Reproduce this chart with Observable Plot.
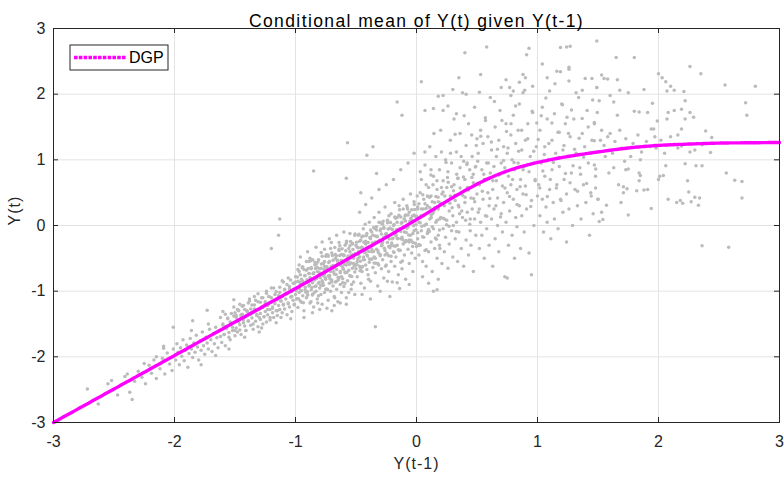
<!DOCTYPE html>
<html>
<head>
<meta charset="utf-8">
<script src="https://cdn.jsdelivr.net/npm/d3@7"></script>
<script src="https://cdn.jsdelivr.net/npm/@observablehq/plot@0.6"></script>
<style>
  html, body { margin: 0; padding: 0; background: #fff; }
  #chart { width: 784px; height: 477px; }
</style>
</head>
<body>
<div id="chart"></div>
<script>
// ---- data ----
const titleText = "Conditional mean of Y(t) given Y(t-1)";
const xLabel = "Y(t-1)";
const yLabel = "Y(t)";
const legendLabel = "DGP";
const xTicks = [-3, -2, -1, 0, 1, 2, 3];
const yTicks = [-3, -2, -1, 0, 1, 2, 3];

// conditional mean curve (DGP)
const curveX = [-3, -2.5, -2, -1.5, -1, -0.5, -0.25, 0, 0.25, 0.5, 0.75, 1, 1.25, 1.5, 1.75, 2, 2.25, 2.5, 2.75, 3];
const curveY = [-3, -2.49, -1.98, -1.47, -0.96, -0.44, -0.18, 0.09, 0.37, 0.63, 0.83, 0.96, 1.05, 1.12, 1.18, 1.22, 1.24, 1.255, 1.26, 1.265];

// scatter of (Y(t-1), Y(t)) pairs, x < -1
const scatterLow = [
[-2.72,-2.49],[-2.63,-2.72],[-2.55,-2.41],[-2.52,-2.36],[-2.47,-2.58],[-2.41,-2.30],[-2.39,-2.26],[-2.37,-2.54],[-2.35,-2.65],[-2.33,-2.37],
[-2.30,-2.22],[-2.27,-2.31],[-2.24,-2.41],[-2.21,-2.13],[-2.19,-2.25],[-2.17,-2.05],[-2.15,-2.33],[-2.12,-2.18],[-2.10,-2.02],[-2.08,-2.26],
[-2.06,-1.94],[-2.04,-2.11],[-2.02,-2.21],[-2.01,-1.88],[-2.09,-1.87],[-2.15,-2.00],[-2.09,-1.84],[-2.25,-2.10],
[-1.99,-2.05],[-1.98,-1.80],[-1.97,-1.93],[-1.96,-2.12],[-1.95,-1.86],[-1.94,-1.99],[-1.93,-1.74],[-1.92,-2.06],[-1.91,-1.90],[-1.90,-1.82],
[-1.89,-2.16],[-1.88,-1.95],[-1.87,-1.72],[-1.86,-1.88],[-1.85,-2.01],[-1.84,-1.79],[-1.83,-1.93],[-1.82,-1.67],[-1.81,-1.85],[-1.80,-2.05],
[-1.79,-1.76],[-1.78,-1.90],[-1.77,-1.62],[-1.76,-1.83],[-1.75,-1.96],[-1.74,-1.70],[-1.73,-1.79],[-1.72,-1.88],[-1.71,-1.58],[-1.70,-1.74],
[-1.69,-1.92],[-1.68,-1.65],[-1.67,-1.80],[-1.66,-1.55],[-1.65,-1.71],[-1.64,-1.86],[-1.63,-1.60],[-1.62,-1.69],[-1.61,-1.78],[-1.60,-1.52],
[-1.59,-1.66],[-1.58,-1.83],[-1.57,-1.57],[-1.56,-1.42],[-1.55,-1.63],[-1.54,-1.74],[-1.53,-1.50],[-1.52,-1.60],[-1.51,-1.38],[-1.50,-1.68],
[-1.86,-1.60],[-1.72,-1.50],[-1.62,-1.40],[-1.78,-2.12],[-1.66,-1.98],[-1.55,-1.88],[-1.73,-1.29],[-2.01,-1.55],[-1.60,-1.31],[-1.85,-1.45],
[-1.51,-1.13],
[-1.50,-1.33],[-1.49,-1.56],[-1.49,-1.40],[-1.48,-1.62],[-1.47,-1.47],[-1.47,-1.29],[-1.46,-1.51],[-1.45,-1.38],[-1.45,-1.66],[-1.44,-1.35],
[-1.43,-1.44],[-1.43,-1.22],[-1.42,-1.53],[-1.41,-1.39],[-1.41,-1.60],[-1.40,-1.31],[-1.39,-1.45],[-1.39,-1.18],[-1.38,-1.36],[-1.37,-1.52],
[-1.37,-1.27],[-1.36,-1.41],[-1.35,-1.58],[-1.35,-1.33],[-1.34,-1.21],[-1.33,-1.46],[-1.33,-1.30],[-1.32,-1.37],[-1.31,-1.54],[-1.31,-1.16],
[-1.30,-1.28],[-1.29,-1.43],[-1.29,-1.34],[-1.28,-1.10],[-1.27,-1.50],[-1.27,-1.25],[-1.26,-1.39],[-1.25,-1.19],[-1.25,-1.31],[-1.24,-1.47],
[-1.23,-1.22],[-1.23,-1.36],[-1.22,-1.08],[-1.21,-1.28],[-1.21,-1.44],[-1.20,-1.17],[-1.19,-1.33],[-1.19,-1.24],[-1.18,-1.40],[-1.17,-1.05],
[-1.17,-1.19],[-1.16,-1.30],[-1.15,-1.13],[-1.15,-1.37],[-1.14,-1.22],[-1.13,-1.02],[-1.13,-1.28],[-1.12,-1.15],[-1.11,-1.33],[-1.11,-1.08],
[-1.10,-1.21],[-1.09,-0.98],[-1.09,-1.27],[-1.08,-1.12],[-1.07,-1.36],[-1.07,-1.04],[-1.06,-1.18],[-1.05,-0.93],[-1.05,-1.24],[-1.04,-1.09],
[-1.03,-1.31],[-1.03,-1.00],[-1.02,-1.14],[-1.01,-0.88],[-1.01,-1.21],[-1.00,-1.05],[-1.46,-1.20],[-1.38,-1.12],[-1.30,-1.62],[-1.24,-1.00],
[-1.16,-1.48],[-1.10,-0.86],[-1.04,-1.42],[-1.42,-1.70],[-1.34,-1.08],[-1.20,-0.95],[-1.12,-1.40],[-1.06,-0.80],[-1.28,-1.56],[-1.48,-1.28],
[-1.13,0.10],[-1.14,-0.15],[-1.20,-0.35]
];

// extra points filling the dense band, x from -1.6 to -1
const scatterBandLow = [
[-1.60,-1.50],[-1.59,-1.66],[-1.58,-1.35],[-1.57,-1.55],[-1.56,-1.41],[-1.55,-1.70],[-1.54,-1.47],[-1.53,-1.34],[-1.52,-1.55],[-1.51,-1.24],
[-1.50,-1.60],[-1.49,-1.37],[-1.48,-1.44],[-1.47,-1.30],[-1.46,-1.59],[-1.45,-1.36],[-1.44,-1.23],[-1.43,-1.48],[-1.42,-1.28],[-1.41,-1.60],
[-1.40,-1.30],[-1.39,-1.46],[-1.38,-1.15],[-1.37,-1.35],[-1.36,-1.21],[-1.35,-1.50],[-1.34,-1.27],[-1.33,-1.14],[-1.32,-1.35],[-1.31,-1.04],
[-1.30,-1.40],[-1.29,-1.17],[-1.28,-1.24],[-1.27,-1.10],[-1.26,-1.39],[-1.25,-1.16],[-1.24,-1.03],[-1.23,-1.28],[-1.22,-1.08],[-1.21,-1.40],
[-1.20,-1.10],[-1.19,-1.26],[-1.18,-0.95],[-1.17,-1.15],[-1.16,-1.01],[-1.15,-1.30],[-1.14,-1.07],[-1.13,-0.94],[-1.12,-1.15],[-1.11,-0.84],
[-1.10,-1.20],[-1.09,-0.97],[-1.08,-1.04],[-1.07,-0.90],[-1.06,-1.19],[-1.05,-0.96],[-1.04,-0.83],[-1.03,-1.08],[-1.02,-0.88],[-1.01,-1.20]
];

// -1 <= x < 0
const scatterMid = [
[-1.00,-0.78],[-0.99,-1.12],[-0.99,-0.95],[-0.98,-0.85],[-0.98,-1.25],[-0.97,-1.02],[-0.97,-0.70],[-0.96,-0.90],[-0.96,-1.15],[-0.95,-0.82],
[-0.95,-0.99],[-0.94,-0.63],[-0.94,-1.07],[-0.93,-0.88],[-0.93,-1.30],[-0.92,-0.76],[-0.92,-0.94],[-0.91,-1.10],[-0.91,-0.68],[-0.90,-0.85],
[-0.90,-1.01],[-0.89,-0.55],[-0.89,-0.92],[-0.88,-1.18],[-0.88,-0.79],[-0.87,-0.98],[-0.87,-0.66],[-0.86,-0.87],[-0.86,-1.06],[-0.85,-0.72],
[-0.85,-1.24],[-0.84,-0.93],[-0.84,-0.60],[-0.83,-0.81],[-0.83,-1.00],[-0.82,-0.70],[-0.82,-1.12],[-0.81,-0.88],[-0.81,-0.52],[-0.80,-0.76],
[-0.80,-0.95],[-0.79,-1.05],[-0.79,-0.65],[-0.78,-0.84],[-0.78,-1.20],[-0.77,-0.58],[-0.77,-0.91],[-0.76,-0.74],[-0.76,-1.02],[-0.75,-0.47],
[-0.75,-0.82],[-0.74,-0.97],[-0.74,-0.63],[-0.73,-1.14],[-0.73,-0.77],[-0.72,-0.88],[-0.72,-0.55],[-0.71,-0.70],[-0.71,-1.00],[-0.70,-0.83],
[-0.70,-0.42],[-0.69,-0.92],[-0.69,-0.61],[-0.68,-1.08],[-0.68,-0.74],[-0.67,-0.50],[-0.67,-0.86],[-0.66,-0.67],[-0.66,-0.97],[-0.65,-0.58],
[-0.65,-1.16],[-0.64,-0.79],[-0.64,-0.38],[-0.63,-0.70],[-0.63,-0.90],[-0.62,-0.53],[-0.62,-1.02],[-0.61,-0.64],[-0.61,-0.81],[-0.60,-0.45],
[-0.60,-0.93],[-0.59,-0.72],[-0.59,-0.30],[-0.58,-0.60],[-0.58,-1.10],[-0.57,-0.84],[-0.57,-0.49],[-0.56,-0.68],[-0.56,-1.02],[-0.55,-0.76],
[-0.55,-0.40],[-0.54,-0.97],[-0.54,-0.57],[-0.53,-0.65],[-0.53,-0.28],[-0.52,-0.86],[-0.52,-0.50],[-0.51,-0.71],[-0.51,-1.05],[-0.50,-0.44],
[-0.50,-0.60],[-0.96,-0.48],[-0.90,-0.40],[-0.83,-0.33],[-0.78,-0.25],[-0.72,-0.20],[-0.66,-0.15],[-0.60,-0.10],[-0.93,-1.40],[-0.86,-1.33],
[-0.80,-1.28],[-0.74,-1.26],[-0.68,-1.22],[-0.63,-1.18],[-0.97,-0.60],[-0.88,-0.50],[-0.76,-0.36],[-0.64,-0.26],[-0.55,-0.12],[-0.70,-1.30],
[-0.58,-1.20],[-0.85,0.83],[-0.57,1.26],[-0.36,1.20],[-0.41,1.07],[-0.58,0.72],[-0.46,0.50],[-0.33,0.79],[-0.34,-1.54],
[-0.50,-0.30],[-0.49,-0.55],[-0.49,-0.78],[-0.48,-0.40],[-0.48,-0.15],[-0.47,-0.62],[-0.47,-0.48],[-0.46,-0.88],[-0.46,-0.22],[-0.45,-0.35],
[-0.45,-0.70],[-0.44,-0.05],[-0.44,-0.52],[-0.43,-0.41],[-0.43,-0.95],[-0.42,-0.28],[-0.42,-0.60],[-0.41,-0.12],[-0.41,-0.45],[-0.40,-0.75],
[-0.40,-0.33],[-0.39,0.05],[-0.39,-0.56],[-0.38,-0.20],[-0.38,-0.85],[-0.37,-0.40],[-0.37,-0.10],[-0.36,-0.64],[-0.36,-0.27],[-0.35,0.12],
[-0.35,-0.48],[-0.34,-0.72],[-0.34,-0.16],[-0.33,-0.36],[-0.33,-0.02],[-0.32,-0.58],[-0.32,-0.92],[-0.31,-0.24],[-0.31,0.20],[-0.30,-0.44],
[-0.30,-0.08],[-0.29,-0.66],[-0.29,-0.31],[-0.28,0.02],[-0.28,-0.52],[-0.27,-0.18],[-0.27,-0.80],[-0.26,-0.38],[-0.26,0.28],[-0.25,-0.12],
[-0.25,-0.60],[-0.24,-0.26],[-0.24,0.08],[-0.23,-0.46],[-0.23,-0.70],[-0.22,-0.04],[-0.22,-0.34],[-0.21,0.18],[-0.21,-0.55],[-0.20,-0.20],
[-0.20,-0.86],[-0.19,-0.40],[-0.19,0.00],[-0.18,-0.62],[-0.18,0.35],[-0.17,-0.14],[-0.17,-0.48],[-0.16,0.12],[-0.16,-0.30],[-0.15,-0.75],
[-0.15,-0.06],[-0.14,-0.38],[-0.14,0.24],[-0.13,-0.56],[-0.13,-0.20],[-0.12,0.05],[-0.12,-0.66],[-0.11,-0.28],[-0.11,0.40],[-0.10,-0.10],
[-0.10,-0.45],[-0.09,0.16],[-0.09,-0.82],[-0.08,-0.24],[-0.08,0.30],[-0.07,-0.36],[-0.07,-0.02],[-0.06,-0.58],[-0.06,0.20],[-0.05,-0.15],
[-0.05,0.48],[-0.04,-0.42],[-0.04,0.08],[-0.03,-0.70],[-0.03,-0.26],[-0.02,0.36],[-0.02,-0.08],[-0.01,-0.50],[-0.01,0.14],[0.00,-0.32],
[-0.47,0.20],[-0.42,0.32],[-0.37,0.42],[-0.31,0.55],[-0.25,0.62],[-0.19,0.70],[-0.13,0.85],[-0.07,0.95],[-0.02,1.10],[-0.45,-1.05],
[-0.38,-1.12],[-0.30,-1.00],[-0.22,-1.08],[-0.14,-0.96],[-0.06,-0.90],[-0.24,-0.85],[-0.16,-0.87],[-0.16,1.88],[-0.12,1.68]
];

// extra points filling the dense band, x from -1 to 0.2
const scatterBandMid = [
[-1.00,-0.86],[-0.99,-1.11],[-0.98,-0.67],[-0.97,-0.96],[-0.96,-0.75],[-0.95,-1.17],[-0.94,-0.85],[-0.93,-0.67],[-0.92,-0.98],[-0.91,-0.55],
[-0.90,-1.06],[-0.89,-0.73],[-0.88,-0.84],[-0.87,-0.64],[-0.86,-1.05],[-0.85,-0.73],[-0.84,-0.56],[-0.83,-0.92],[-0.82,-0.64],[-0.81,-1.07],
[-0.80,-0.66],[-0.79,-0.91],[-0.78,-0.47],[-0.77,-0.76],[-0.76,-0.55],[-0.75,-0.97],[-0.74,-0.65],[-0.73,-0.47],[-0.72,-0.78],[-0.71,-0.35],
[-0.70,-0.86],[-0.69,-0.53],[-0.68,-0.64],[-0.67,-0.44],[-0.66,-0.85],[-0.65,-0.53],[-0.64,-0.36],[-0.63,-0.72],[-0.62,-0.44],[-0.61,-0.87],
[-0.60,-0.46],[-0.59,-0.71],[-0.58,-0.27],[-0.57,-0.56],[-0.56,-0.35],[-0.55,-0.77],[-0.54,-0.45],[-0.53,-0.27],[-0.52,-0.58],[-0.51,-0.15],
[-0.50,-0.66],[-0.49,-0.33],[-0.48,-0.44],[-0.47,-0.24],[-0.46,-0.65],[-0.45,-0.33],[-0.44,-0.16],[-0.43,-0.52],[-0.42,-0.24],[-0.41,-0.67],
[-0.40,-0.26],[-0.39,-0.51],[-0.38,-0.07],[-0.37,-0.36],[-0.36,-0.15],[-0.35,-0.57],[-0.34,-0.25],[-0.33,-0.07],[-0.32,-0.38],[-0.31,0.05],
[-0.30,-0.46],[-0.29,-0.13],[-0.28,-0.24],[-0.27,-0.04],[-0.26,-0.45],[-0.25,-0.13],[-0.24,0.04],[-0.23,-0.32],[-0.22,-0.04],[-0.21,-0.47],
[-0.20,-0.06],[-0.19,-0.31],[-0.18,0.13],[-0.17,-0.16],[-0.16,0.05],[-0.15,-0.37],[-0.14,-0.05],[-0.13,0.13],[-0.12,-0.18],[-0.11,0.25],
[-0.10,-0.26],[-0.09,0.07],[-0.08,-0.04],[-0.07,0.16],[-0.06,-0.25],[-0.05,0.07],[-0.04,0.24],[-0.03,-0.12],[-0.02,0.16],[-0.01,-0.27],
[0.00,0.14],[0.01,-0.11],[0.02,0.33],[0.03,0.04],[0.04,0.25],[0.05,-0.17],[0.06,0.15],[0.07,0.33],[0.08,0.02],[0.09,0.45],
[0.10,-0.06],[0.11,0.27],[0.12,0.16],[0.13,0.36],[0.14,-0.05],[0.15,0.27],[0.16,0.44],[0.17,0.08],[0.18,0.36],[0.19,-0.07],[0.20,0.34],
[-0.995,-0.995],[-0.985,-0.785],[-0.975,-1.115],[-0.965,-0.865],[-0.955,-0.995],[-0.945,-0.645],[-0.935,-1.175],[-0.925,-0.765],[-0.915,-1.015],[-0.905,-0.825],
[-0.895,-0.655],[-0.885,-0.905],[-0.875,-0.535],[-0.865,-0.945],[-0.855,-0.735],[-0.845,-1.025],[-0.835,-0.655],[-0.825,-0.805],[-0.815,-0.555],[-0.805,-0.865],
[-0.795,-0.795],[-0.785,-0.585],[-0.775,-0.915],[-0.765,-0.665],[-0.755,-0.795],[-0.745,-0.445],[-0.735,-0.975],[-0.725,-0.565],[-0.715,-0.815],[-0.705,-0.625],
[-0.695,-0.455],[-0.685,-0.705],[-0.675,-0.335],[-0.665,-0.745],[-0.655,-0.535],[-0.645,-0.825],[-0.635,-0.455],[-0.625,-0.605],[-0.615,-0.355],[-0.605,-0.665],
[-0.595,-0.595],[-0.585,-0.385],[-0.575,-0.715],[-0.565,-0.465],[-0.555,-0.595],[-0.545,-0.245],[-0.535,-0.775],[-0.525,-0.365],[-0.515,-0.615],[-0.505,-0.425],
[-0.495,-0.255],[-0.485,-0.505],[-0.475,-0.135],[-0.465,-0.545],[-0.455,-0.335],[-0.445,-0.625],[-0.435,-0.255],[-0.425,-0.405],[-0.415,-0.155],[-0.405,-0.465],
[-0.395,-0.395],[-0.385,-0.185],[-0.375,-0.515],[-0.365,-0.265],[-0.355,-0.395],[-0.345,-0.045],[-0.335,-0.575],[-0.325,-0.165],[-0.315,-0.415],[-0.305,-0.225],
[-0.295,-0.055],[-0.285,-0.305],[-0.275,0.065],[-0.265,-0.345],[-0.255,-0.135],[-0.245,-0.425],[-0.235,-0.055],[-0.225,-0.205],[-0.215,0.045],[-0.205,-0.265],
[-0.195,-0.195],[-0.185,0.015],[-0.175,-0.315],[-0.165,-0.065],[-0.155,-0.195],[-0.145,0.155],[-0.135,-0.375],[-0.125,0.035],[-0.115,-0.215],[-0.105,-0.025],
[-0.095,0.145],[-0.085,-0.105],[-0.075,0.265],[-0.065,-0.145],[-0.055,0.065],[-0.045,-0.225],[-0.035,0.145],[-0.025,-0.005],[-0.015,0.245],[-0.005,-0.065]
];

// further points in the dense band, x from -0.9 to 0.5
const scatterBandExtra = [
[-0.900,-1.06],[-0.886,-0.73],[-0.872,-1.16],[-0.858,-0.52],[-0.844,-0.83],[-0.830,-0.59],[-0.816,-1.18],[-0.802,-0.72],[-0.788,-0.41],[-0.774,-0.87],
[-0.760,-0.62],[-0.746,-0.97],[-0.732,-0.45],[-0.718,-0.76],[-0.704,-0.26],[-0.690,-0.65],[-0.676,-1.10],[-0.662,-0.46],[-0.648,-0.79],[-0.634,-0.31],
[-0.620,-0.78],[-0.606,-0.45],[-0.592,-0.88],[-0.578,-0.24],[-0.564,-0.55],[-0.550,-0.31],[-0.536,-0.90],[-0.522,-0.44],[-0.508,-0.13],[-0.494,-0.59],
[-0.480,-0.34],[-0.466,-0.69],[-0.452,-0.17],[-0.438,-0.48],[-0.424,0.02],[-0.410,-0.37],[-0.396,-0.82],[-0.382,-0.18],[-0.368,-0.51],[-0.354,-0.03],
[-0.340,-0.50],[-0.326,-0.17],[-0.312,-0.60],[-0.298,0.04],[-0.284,-0.27],[-0.270,-0.03],[-0.256,-0.62],[-0.242,-0.16],[-0.228,0.15],[-0.214,-0.31],
[-0.200,-0.06],[-0.186,-0.41],[-0.172,0.11],[-0.158,-0.20],[-0.144,0.30],[-0.130,-0.09],[-0.116,-0.54],[-0.102,0.10],[-0.088,-0.23],[-0.074,0.25],
[-0.060,-0.22],[-0.046,0.11],[-0.032,-0.32],[-0.018,0.32],[-0.004,0.01],[0.010,0.28],[0.024,-0.30],[0.038,0.15],[0.052,0.47],[0.066,0.00],
[0.080,0.26],[0.094,-0.09],[0.108,0.43],[0.122,0.12],[0.136,0.62],[0.150,0.24],[0.164,-0.21],[0.178,0.43],[0.192,0.10],[0.206,0.58],
[0.220,0.11],[0.234,0.45],[0.248,0.01],[0.262,0.66],[0.276,0.34],[0.290,0.59],[0.304,0.00],[0.318,0.46],[0.332,0.78],[0.346,0.31],
[0.360,0.57],[0.374,0.22],[0.388,0.74],[0.402,0.43],[0.416,0.93],[0.430,0.54],[0.444,0.10],[0.458,0.73],[0.472,0.41],[0.486,0.89]
];

// 0 <= x < 1
const scatterHigh = [
[0.01,-0.20],[0.01,0.25],[0.02,-0.45],[0.02,0.05],[0.03,0.50],[0.03,-0.30],[0.04,-0.08],[0.04,0.70],[0.05,-0.55],[0.05,0.15],
[0.06,-0.18],[0.06,0.40],[0.07,-0.38],[0.07,0.92],[0.08,0.02],[0.08,-0.62],[0.09,0.30],[0.09,-0.12],[0.10,0.58],[0.10,-0.40],
[0.11,0.10],[0.11,1.20],[0.12,-0.25],[0.12,0.45],[0.13,-0.02],[0.13,-0.70],[0.14,0.75],[0.14,0.20],[0.14,-1.00],[0.15,-0.35],
[0.15,0.35],[0.16,0.05],[0.16,1.05],[0.17,-0.50],[0.17,0.55],[0.18,-0.15],[0.18,0.25],[0.19,0.85],[0.19,-0.30],[0.20,0.12],
[0.20,1.45],[0.21,-0.58],[0.21,0.48],[0.22,-0.05],[0.22,0.68],[0.23,-0.40],[0.23,0.30],[0.24,1.00],[0.24,-0.18],[0.25,0.58],
[0.25,0.08],[0.26,-0.65],[0.26,0.82],[0.27,0.22],[0.27,-0.28],[0.28,1.30],[0.28,0.45],[0.29,-0.08],[0.29,0.95],[0.30,0.15],
[0.30,-0.48],[0.31,0.62],[0.31,1.62],[0.32,-0.20],[0.32,0.38],[0.33,0.05],[0.33,1.12],[0.34,-0.55],[0.34,0.72],[0.35,0.28],
[0.35,-0.10],[0.36,0.88],[0.36,1.40],[0.37,-0.35],[0.37,0.50],[0.38,0.12],[0.38,2.02],[0.39,0.98],[0.39,-0.62],[0.40,0.35],
[0.40,0.70],[0.41,-0.22],[0.41,1.22],[0.42,0.20],[0.42,0.58],[0.43,-0.45],[0.43,1.55],[0.44,0.02],[0.44,0.85],[0.45,0.42],
[0.45,-0.30],[0.46,1.05],[0.46,0.25],[0.47,-0.70],[0.47,0.65],[0.48,1.80],[0.48,0.10],[0.49,0.90],[0.49,-0.15],[0.50,0.48],
[0.50,1.32],[0.05,-0.78],[0.10,-0.88],[0.18,-0.82],[0.08,0.62],[0.12,0.85],[0.22,1.75],[0.35,2.25],[0.17,-0.98],
[0.58,2.72],[0.40,2.63],[0.93,2.70],[0.91,2.60],[0.04,2.19],[0.53,2.30],[0.30,2.07],[0.18,1.97],[0.22,1.98],[0.41,2.00],
[0.52,2.03],[0.07,1.75],[0.14,1.78],[0.26,1.82],[0.33,1.70],[0.70,2.10],[0.74,2.22],[0.80,2.05],[0.85,2.18],[0.90,2.25],
[0.96,2.12],[0.78,1.98],[0.88,2.02],
[0.51,0.20],[0.51,1.10],[0.52,-0.35],[0.52,0.62],[0.53,1.45],[0.53,0.05],[0.54,0.85],[0.54,-0.15],[0.55,0.40],[0.55,1.25],
[0.56,-0.50],[0.56,0.70],[0.57,0.15],[0.57,1.60],[0.58,0.95],[0.58,-0.05],[0.59,0.50],[0.59,1.35],[0.60,-0.30],[0.60,0.30],
[0.61,0.80],[0.61,1.95],[0.62,0.10],[0.62,1.15],[0.63,-0.62],[0.63,0.55],[0.64,0.90],[0.64,0.25],[0.65,1.50],[0.65,-0.20],
[0.66,0.68],[0.66,1.05],[0.67,0.00],[0.67,0.42],[0.68,1.30],[0.68,-0.40],[0.69,0.78],[0.69,1.75],[0.70,0.18],[0.70,0.95],
[0.71,-0.10],[0.71,0.60],[0.72,1.20],[0.72,0.35],[0.73,-0.78],[0.73,0.88],[0.74,1.55],[0.74,0.05],[0.75,0.50],[0.75,1.10],
[0.76,-0.30],[0.76,0.75],[0.77,2.10],[0.77,0.22],[0.78,1.38],[0.78,0.62],[0.79,-0.15],[0.79,1.00],[0.80,0.40],[0.80,1.68],
[0.81,-0.50],[0.81,0.85],[0.82,0.12],[0.82,1.25],[0.83,0.55],[0.83,-0.02],[0.84,1.45],[0.84,0.95],[0.85,0.30],[0.85,1.85],
[0.86,-0.35],[0.86,0.70],[0.87,1.15],[0.87,0.15],[0.88,0.48],[0.88,2.30],[0.89,0.90],[0.89,-0.10],[0.90,1.30],[0.90,0.60],
[0.91,0.25],[0.92,1.55],[0.93,-0.42],[0.93,0.82],[0.94,1.05],[0.95,0.38],[0.96,1.72],[0.97,0.00],[0.98,0.68],[0.99,1.20],
[0.95,-0.75],[0.75,-0.80]
];

// extra points in the wide cloud, x from 0 to 1.5
const scatterCloud = [
[0.006,0.45],[0.019,-0.29],[0.031,0.82],[0.044,-0.01],[0.056,0.25],[0.069,1.12],[0.081,-0.37],[0.094,0.44],[0.106,-0.09],[0.119,0.77],
[0.131,0.18],[0.144,1.40],[0.156,-0.19],[0.169,0.68],[0.181,0.29],[0.194,-0.35],[0.206,1.12],[0.219,0.51],[0.231,0.10],[0.244,0.96],
[0.256,0.73],[0.269,-0.01],[0.281,1.10],[0.294,0.27],[0.306,0.53],[0.319,1.39],[0.331,-0.09],[0.344,0.72],[0.356,0.18],[0.369,1.05],
[0.381,0.46],[0.394,1.67],[0.406,0.08],[0.419,0.95],[0.431,0.56],[0.444,-0.08],[0.456,1.38],[0.469,0.78],[0.481,0.36],[0.494,1.22],
[0.506,0.98],[0.519,0.25],[0.531,1.36],[0.544,0.52],[0.556,0.78],[0.569,1.64],[0.581,0.14],[0.594,0.95],[0.606,0.41],[0.619,1.27],
[0.631,0.68],[0.644,1.89],[0.656,0.30],[0.669,1.16],[0.681,0.77],[0.694,0.13],[0.706,1.60],[0.719,0.99],[0.731,0.57],[0.744,1.43],
[0.756,1.18],[0.769,0.44],[0.781,1.55],[0.794,0.70],[0.806,0.96],[0.819,1.82],[0.831,0.32],[0.844,1.13],[0.856,0.59],[0.869,1.45],
[0.881,0.85],[0.894,2.06],[0.906,0.47],[0.919,1.32],[0.931,0.93],[0.944,0.29],[0.956,1.74],[0.969,1.13],[0.981,0.70],[0.994,1.56],
[1.006,1.31],[1.019,0.57],[1.031,1.67],[1.044,0.83],[1.056,1.08],[1.069,1.94],[1.081,0.44],[1.094,1.25],[1.106,0.70],[1.119,1.56],
[1.131,0.96],[1.144,2.16],[1.156,0.57],[1.169,1.42],[1.181,1.03],[1.194,0.38],[1.206,1.84],[1.219,1.22],[1.231,0.79],[1.244,1.65],
[1.256,1.40],[1.269,0.65],[1.281,1.76],[1.294,0.91],[1.306,1.16],[1.319,2.02],[1.331,0.52],[1.344,1.33],[1.356,0.78],[1.369,1.63],
[1.381,1.04],[1.394,2.24],[1.406,0.64],[1.419,1.50],[1.431,1.10],[1.444,0.45],[1.456,1.91],[1.469,1.29],[1.481,0.86],[1.494,1.72]
];

// x >= 1
const scatterTop = [
[1.00,0.45],[1.01,0.62],[1.02,1.45],[1.02,0.15],[1.03,0.95],[1.04,1.80],[1.04,0.40],[1.05,-0.10],[1.06,1.20],[1.06,0.75],
[1.07,0.28],[1.08,1.62],[1.08,0.05],[1.09,1.00],[1.10,0.55],[1.10,2.05],[1.11,-0.20],[1.12,1.30],[1.12,0.85],[1.13,0.35],
[1.14,1.70],[1.14,0.10],[1.15,1.10],[1.16,0.62],[1.16,2.35],[1.17,-0.05],[1.18,1.42],[1.18,0.90],[1.19,0.40],[1.20,1.85],
[1.21,0.20],[1.21,1.15],[1.22,0.70],[1.23,1.55],[1.24,-0.25],[1.24,0.48],[1.25,1.05],[1.26,2.20],[1.26,0.25],[1.27,1.35],
[1.28,0.80],[1.29,0.00],[1.30,1.62],[1.31,0.55],[1.32,1.10],[1.33,0.30],[1.34,1.95],[1.35,0.88],[1.36,0.10],[1.37,1.40],
[1.38,0.62],[1.39,1.20],[1.40,0.35],[1.41,1.75],[1.42,0.95],[1.43,-0.15],[1.44,0.50],[1.45,1.30],[1.46,0.18],[1.47,1.55],
[1.48,0.75],[1.49,2.10],[1.50,0.40],
[1.04,2.46],[1.08,2.25],[1.19,2.34],[1.26,2.38],[1.19,2.71],[1.27,2.73],[1.26,2.41],[1.45,2.24],[1.37,2.06],[1.24,2.72],
[1.49,2.81],[1.65,2.56],[1.80,2.56],[1.53,2.29],[1.58,2.23],[1.55,2.24],[1.66,2.22],[1.49,2.10],[1.68,2.06],[1.75,2.02],
[1.88,2.07],[1.60,1.98],[1.51,1.90],[1.63,1.88],[1.95,1.86],[1.66,1.68],[1.80,1.74],[1.84,1.73],[1.91,1.72],[1.99,1.59],
[1.94,1.47],[1.96,1.47],[1.47,1.57],[1.53,1.45],
[1.52,1.30],[1.55,1.22],[1.58,1.35],[1.62,1.10],[1.64,1.28],[1.70,1.18],[1.73,1.32],[1.77,1.05],[1.79,1.25],[1.83,1.38],
[1.86,1.12],[1.90,1.28],[1.93,1.20],[1.97,1.35],[1.56,1.05],[1.60,1.40],[1.68,1.45],[1.72,0.98],[1.85,1.00],[1.98,1.18],
[1.47,0.92],[1.59,0.80],[1.63,0.88],[1.73,0.85],[1.75,0.86],[1.84,0.80],[1.85,0.76],[1.67,0.62],[1.71,0.59],[1.74,0.56],
[1.71,0.50],[1.84,0.68],[1.82,0.53],[1.88,0.54],[1.91,0.55],[1.69,0.35],[1.75,0.16],[1.94,0.26],[1.51,0.06],[1.54,0.09],
[1.48,0.57],[1.50,0.40],[1.57,0.31],[1.53,0.20],
[2.00,2.31],[2.03,2.25],[2.06,2.19],[2.10,2.12],[2.13,2.06],[2.07,2.05],[2.21,2.04],[2.26,2.42],[2.35,2.31],[2.55,2.14],
[2.80,2.12],[2.22,1.90],[2.19,1.77],[2.13,1.75],[2.08,1.72],[2.07,1.62],[2.26,1.72],[2.29,1.65],[2.22,1.62],[2.19,1.47],
[2.16,1.38],[2.39,1.44],[2.44,1.34],[2.72,1.87],[2.73,1.68],
[2.02,1.30],[2.07,1.22],[2.10,1.35],[2.16,1.18],[2.19,1.21],[2.26,1.12],[2.36,1.23],[2.43,1.11],[2.30,1.15],[2.05,1.10],
[2.22,0.94],[2.31,0.91],[2.36,0.91],[2.56,0.80],[2.63,0.69],[2.69,0.67],[2.06,0.91],[2.01,0.75],[2.04,0.76],[2.00,0.70],
[2.24,0.68],[2.25,0.51],[2.30,0.43],[2.34,0.42],[2.08,0.40],[2.15,0.35],[2.18,0.38],[2.20,0.34],[2.27,0.36],[2.33,0.31],
[2.69,0.42],[2.58,-0.33],[2.36,-0.31]
];

// ---- build ----
const points = [...scatterLow, ...scatterBandLow, ...scatterMid, ...scatterBandMid, ...scatterBandExtra,
  ...scatterHigh, ...scatterCloud, ...scatterTop].map(([x, y]) => ({x, y}));
const curve = curveX.map((x, i) => ({x, y: curveY[i]}));

const W = 784, H = 477;
const mL = 53, mR = 5, mT = 28, mB = 55;
const frameW = W - mL - mR;
const frameH = H - mT - mB;
const tickLen = 5;
const axisColor = "#262626";
const gridColor = "#e3e3e3";
const font = "'Liberation Sans', Arial, Helvetica, sans-serif";
const fmt = d => (d < 0 ? "-" + Math.abs(d) : String(d));

const chart = Plot.plot({
  width: W,
  height: H,
  marginLeft: mL,
  marginRight: mR,
  marginTop: mT,
  marginBottom: mB,
  style: { fontFamily: font, fontSize: "16px", color: axisColor, background: "#fff", overflow: "visible" },
  x: { domain: [-3, 3], ticks: xTicks, label: null },
  y: { domain: [-3, 3], ticks: yTicks, label: null },
  marks: [
    Plot.gridX(xTicks, { stroke: gridColor, strokeOpacity: 1, strokeWidth: 1 }),
    Plot.gridY(yTicks, { stroke: gridColor, strokeOpacity: 1, strokeWidth: 1 }),
    Plot.dot(points, { x: "x", y: "y", r: 1.75, fill: "#bbbbbb" }),
    Plot.line(curve, { x: "x", y: "y", stroke: "#ff00ff", strokeWidth: 3.4, strokeDasharray: "3.6,1.2", curve: "natural" }),
    Plot.frame({ stroke: axisColor, strokeWidth: 1 }),
    // inward ticks on all four sides
    Plot.ruleX(xTicks, { stroke: axisColor, insetTop: frameH - tickLen }),
    Plot.ruleX(xTicks, { stroke: axisColor, insetBottom: frameH - tickLen }),
    Plot.ruleY(yTicks, { stroke: axisColor, insetRight: frameW - tickLen }),
    Plot.ruleY(yTicks, { stroke: axisColor, insetLeft: frameW - tickLen }),
    Plot.axisX(xTicks, { tickSize: 0, tickPadding: 13, fontSize: 16, fill: axisColor, label: null, tickFormat: fmt }),
    Plot.axisY(yTicks, { tickSize: 0, tickPadding: 8, fontSize: 16, fill: axisColor, label: null, tickFormat: fmt }),
    Plot.text([xLabel], { text: d => d, frameAnchor: "bottom", dy: 46, fontSize: 16, fill: axisColor }),
    Plot.text([yLabel], { text: d => d, frameAnchor: "left", dx: -39, rotate: -90, fontSize: 16, fill: axisColor }),
    Plot.text([titleText], { text: d => d, frameAnchor: "top", dy: -14, fontSize: 17.5, fill: "#000" })
  ]
});

document.getElementById("chart").appendChild(chart);

// slight letter spacing to match the wide MATLAB-style text
const svg = d3.select(chart);
svg.selectAll("text").filter(function () { return this.textContent === titleText; }).attr("letter-spacing", "1.4px");
svg.selectAll("text").filter(function () { return this.textContent === xLabel || this.textContent === yLabel; }).attr("letter-spacing", "1px");

// legend box (top-left inside the axes)
const lg = svg.append("g").attr("transform", `translate(${mL + 17},${mT + 17})`);
lg.append("rect").attr("x", 0).attr("y", 0).attr("width", 98).attr("height", 25)
  .attr("fill", "#fff").attr("stroke", axisColor).attr("stroke-width", 1);
lg.append("line").attr("x1", 4).attr("x2", 56).attr("y1", 12.5).attr("y2", 12.5)
  .attr("stroke", "#ff00ff").attr("stroke-width", 3.4).attr("stroke-dasharray", "3.6,1.2");
lg.append("text").attr("x", 59).attr("y", 12.5).attr("dy", "0.36em").attr("text-anchor", "start")
  .attr("font-family", font).attr("font-size", 16).attr("fill", "#000").text(legendLabel);
</script>
</body>
</html>
